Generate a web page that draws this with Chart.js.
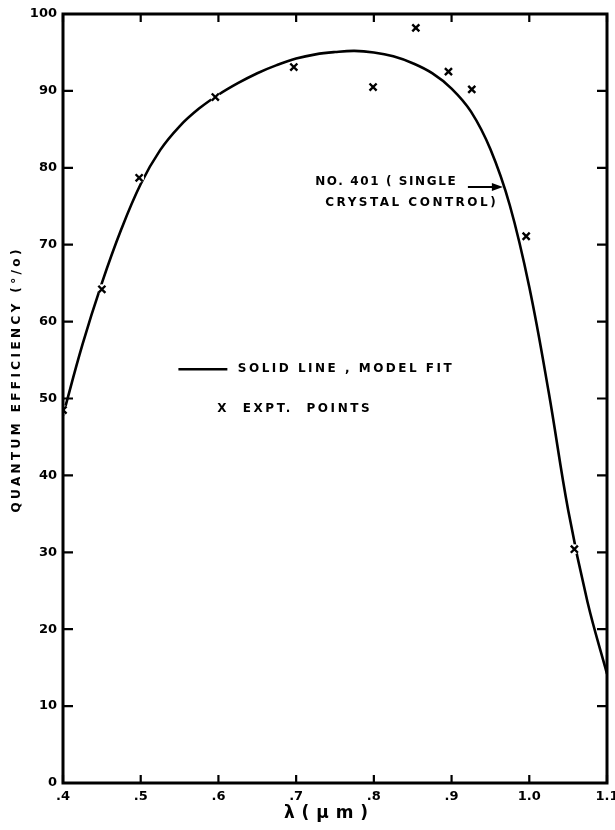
<!DOCTYPE html>
<html>
<head>
<meta charset="utf-8">
<script src="https://cdn.jsdelivr.net/npm/chart.js@4/dist/chart.umd.min.js"></script>
<style>
  html, body { margin: 0; padding: 0; background: #fff; }
  #wrap { width: 615px; height: 830px; position: relative; }
</style>
</head>
<body>
<div id="wrap"><canvas id="c" width="615" height="830"></canvas></div>
<script>
// Model fit curve: wavelength (µm) vs quantum efficiency (%)
const fitWavelength = [0.400, 0.425, 0.450, 0.475, 0.500, 0.525, 0.550, 0.575, 0.600, 0.625, 0.650, 0.675, 0.700, 0.725, 0.750, 0.775, 0.800, 0.825, 0.850, 0.875, 0.900, 0.925, 0.950, 0.975, 1.000, 1.025, 1.050, 1.075, 1.100];
const fitEfficiency = [47.8, 57.0, 65.0, 72.0, 77.9, 82.3, 85.4, 87.7, 89.5, 91.0, 92.3, 93.35, 94.2, 94.75, 95.05, 95.2, 95.0, 94.5, 93.6, 92.3, 90.3, 87.3, 82.4, 75.1, 64.5, 50.8, 35.5, 23.5, 14.2];

// Experimental points
const exptWavelength = [0.400, 0.450, 0.498, 0.596, 0.697, 0.799, 0.854, 0.896, 0.926, 0.996, 1.058];
const exptEfficiency = [48.5, 64.2, 78.7, 89.2, 93.1, 90.5, 98.2, 92.5, 90.2, 71.1, 30.4];

// Axis tick labels
const xTickLabels = ['.4', '.5', '.6', '.7', '.8', '.9', '1.0', '1.1'];
const yTickLabels = ['0', '10', '20', '30', '40', '50', '60', '70', '80', '90', '100'];

const INK = '#000';
const FONT = '"DejaVu Sans", "Liberation Sans", Arial, sans-serif';

function spacedText(ctx, text, x, y, spacing, align) {
  ctx.save();
  ctx.letterSpacing = spacing + 'px';
  const w = ctx.measureText(text).width - spacing;
  let sx = x;
  if (align === 'center') sx = x - w / 2;
  else if (align === 'right') sx = x - w;
  ctx.textAlign = 'left';
  ctx.fillText(text, sx, y);
  ctx.restore();
}

// Frame, inward ticks on all four sides, axis titles, legend and label
const decorations = {
  id: 'decorations',
  afterDraw(chart) {
    const { ctx, chartArea: a, scales: { x, y } } = chart;
    ctx.save();
    ctx.strokeStyle = INK;
    ctx.fillStyle = INK;

    // frame
    ctx.lineWidth = 3;
    ctx.strokeRect(a.left, a.top, a.right - a.left, a.bottom - a.top);

    // inward ticks
    ctx.lineWidth = 2.2;
    ctx.beginPath();
    x.ticks.forEach(t => {
      const px = x.getPixelForValue(t.value);
      ctx.moveTo(px, a.bottom); ctx.lineTo(px, a.bottom - 8);
      ctx.moveTo(px, a.top); ctx.lineTo(px, a.top + 8);
    });
    y.ticks.forEach(t => {
      const py = y.getPixelForValue(t.value);
      ctx.moveTo(a.left, py); ctx.lineTo(a.left + 10, py);
      ctx.moveTo(a.right, py); ctx.lineTo(a.right - 10, py);
    });
    ctx.stroke();

    ctx.textBaseline = 'middle';

    // y axis title
    ctx.save();
    ctx.translate(17, 381);
    ctx.rotate(-Math.PI / 2);
    ctx.font = 'bold 12px ' + FONT;
    spacedText(ctx, 'QUANTUM EFFICIENCY (°/o)', 0, 0, 3.4, 'center');
    ctx.restore();

    // x axis title
    ctx.font = 'bold 17px ' + FONT;
    spacedText(ctx, 'λ ( μ m )', 326, 814, 0.5, 'center');

    // legend
    ctx.font = 'bold 12px ' + FONT;
    const ly = y.getPixelForValue(53.8);
    ctx.lineWidth = 2.5;
    ctx.beginPath();
    ctx.moveTo(x.getPixelForValue(0.5485), ly);
    ctx.lineTo(x.getPixelForValue(0.6115), ly);
    ctx.stroke();
    spacedText(ctx, 'SOLID LINE , MODEL FIT', x.getPixelForValue(0.625), ly, 2.5, 'left');
    spacedText(ctx, 'X  EXPT.  POINTS', x.getPixelForValue(0.5985), y.getPixelForValue(48.7), 2.6, 'left');

    // sample label with arrow to the curve
    spacedText(ctx, 'NO. 401 ( SINGLE', x.getPixelForValue(0.7245), y.getPixelForValue(78.2), 1.6, 'left');
    spacedText(ctx, 'CRYSTAL CONTROL)', x.getPixelForValue(0.7375), y.getPixelForValue(75.4), 2.5, 'left');
    const ax0 = x.getPixelForValue(0.921), ax1 = x.getPixelForValue(0.966);
    const ay = y.getPixelForValue(77.5);
    ctx.lineWidth = 2;
    ctx.beginPath();
    ctx.moveTo(ax0, ay); ctx.lineTo(ax1 - 8, ay);
    ctx.stroke();
    ctx.beginPath();
    ctx.moveTo(ax1, ay); ctx.lineTo(ax1 - 11, ay - 4); ctx.lineTo(ax1 - 11, ay + 4);
    ctx.closePath();
    ctx.fill();

    ctx.restore();
  }
};

const fitData = fitWavelength.map((w, i) => ({ x: w, y: fitEfficiency[i] }));
const exptData = exptWavelength.map((w, i) => ({ x: w, y: exptEfficiency[i] }));

new Chart(document.getElementById('c'), {
  type: 'scatter',
  data: {
    datasets: [
      {
        label: 'Expt. points',
        data: exptData,
        showLine: false,
        pointStyle: 'crossRot',
        pointRadius: 5,
        borderColor: INK,
        borderWidth: 2.4
      },
      {
        // white clearance where the fit line runs through a marker
        label: 'clearance',
        data: exptData,
        showLine: false,
        pointStyle: 'circle',
        pointRadius: 5,
        borderWidth: 0,
        backgroundColor: '#fff'
      },
      {
        label: 'Model fit',
        data: fitData,
        showLine: true,
        borderColor: INK,
        borderWidth: 2.6,
        pointRadius: 0,
        tension: 0.4,
        fill: false
      }
    ]
  },
  options: {
    responsive: false,
    animation: false,
    devicePixelRatio: 1,
    layout: { padding: { top: 14, right: 8, left: 0, bottom: 0 } },
    plugins: { legend: { display: false }, tooltip: { enabled: false } },
    scales: {
      x: {
        type: 'linear',
        min: 0.4,
        max: 1.1,
        ticks: {
          stepSize: 0.1,
          color: INK,
          padding: 6,
          maxRotation: 0,
          font: { family: FONT, size: 13, weight: 'bold' },
          callback: v => xTickLabels[Math.round(v * 10) - 4]
        },
        grid: { display: false, drawTicks: false },
        border: { display: false },
        afterFit: s => { s.height = 47; s.paddingLeft = 0; s.paddingRight = 0; }
      },
      y: {
        min: 0,
        max: 100,
        ticks: {
          stepSize: 10,
          color: INK,
          padding: 6,
          font: { family: FONT, size: 13, weight: 'bold' },
          callback: v => yTickLabels[Math.round(v / 10)]
        },
        grid: { display: false, drawTicks: false },
        border: { display: false },
        afterFit: s => { s.width = 63; s.paddingTop = 0; s.paddingBottom = 0; }
      }
    }
  },
  plugins: [decorations]
});
</script>
</body>
</html>
